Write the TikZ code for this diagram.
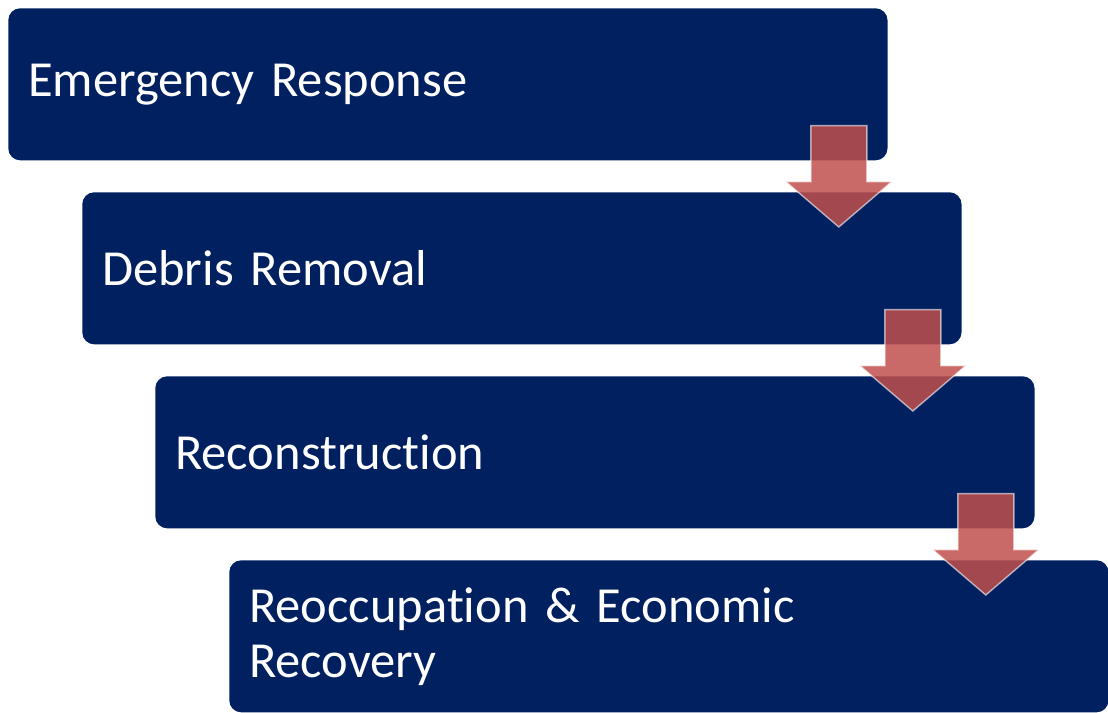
\documentclass[tikz,border=0pt]{standalone}
\usepackage{fontspec}
\setmainfont{Carlito}[Ligatures=NoCommon]
\usetikzlibrary{calc}
\definecolor{navy}{HTML}{002060}
\definecolor{arrowred}{HTML}{C0504D}

\begin{document}
\begin{tikzpicture}
[
	x=0.025cm,
	y=-0.025cm,
	stepbox/.style={fill=navy,rounded corners=0.3cm,minimum width=21.975cm,minimum height=3.8cm,
		text width=20.975cm,inner xsep=0.5cm,inner ysep=0pt,align=left,anchor=north west,
		text=white,font=\fontsize{35.9}{39}\selectfont},
	downarrow/.style={fill=arrowred,fill opacity=0.85,draw=white,draw opacity=0.6,line width=1pt,line join=miter}
]

	\useasboundingbox (0,0) rectangle (1108,712);

	\node[stepbox] (b1) at (8,8) {Emergency Response};
	\node[stepbox] (b2) at (82,192) {Debris Removal};
	\node[stepbox] (b3) at (155,376) {Reconstruction};
	\node[stepbox] (b4) at (229,560) {Reoccupation \& Economic\\Recovery};

	% arrows between the steps
	\foreach \a/\b in {b1/b2,b2/b3,b3/b4}
	{
		\coordinate (top) at ($(\a.south east)+(-49,-35)$);
		\coordinate (tip) at ($(\b.north -| top)+(0,35)$);
		\draw[downarrow] ($(top)+(-28,0)$) -- ($(top)+(-28,56)$) -- ($(top)+(-53,56)$) -- (tip)
			-- ($(top)+(53,56)$) -- ($(top)+(28,56)$) -- ($(top)+(28,0)$) -- cycle;
	}

\end{tikzpicture}
\end{document}
